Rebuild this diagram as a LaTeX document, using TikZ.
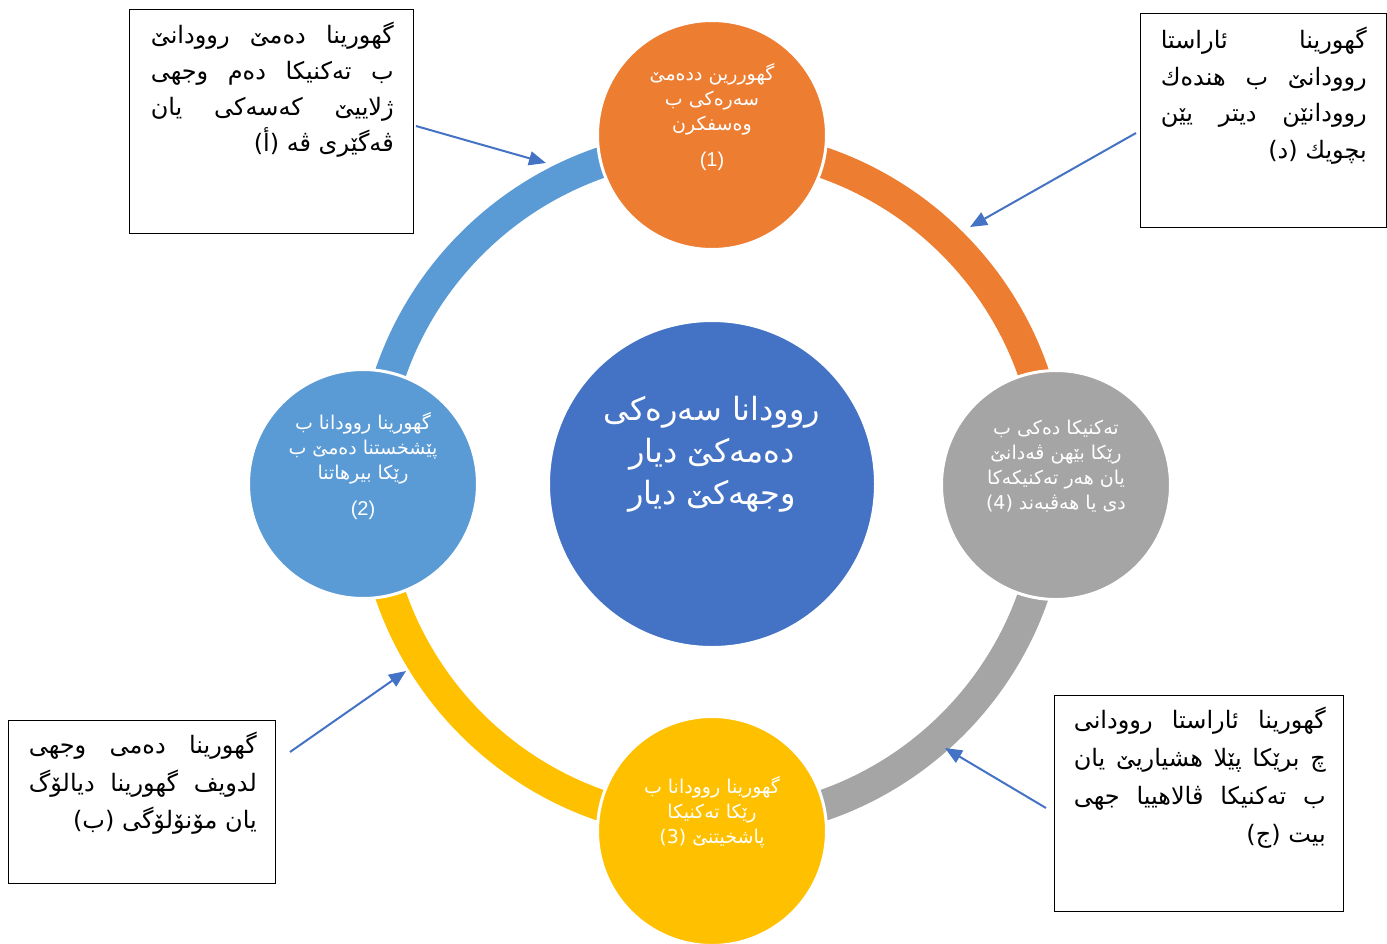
\documentclass[tikz,border=0pt]{standalone}
\usepackage{fontspec}
\usetikzlibrary{arrows.meta}
\TeXXeTstate=1
\newfontfamily\arabicfont[Script=Arabic]{DejaVu Sans}
\newfontfamily\latinfont{Liberation Sans}
\definecolor{corange}{HTML}{ED7D31}
\definecolor{cblue}{HTML}{4472C4}
\definecolor{clight}{HTML}{5B9BD5}
\definecolor{cyellow}{HTML}{FFC000}
\definecolor{cgray}{HTML}{A5A5A5}
\definecolor{arrowblue}{HTML}{4472C4}
\newlength\jw
\newcommand\jl[1]{\hbox to \jw{\spaceskip=.3em plus 1fil\relax\beginR #1\endR}}
\newcommand\jlast[1]{\hbox to \jw{\hfill\beginR #1\endR}}
\newcommand\rl[1]{\beginR #1\endR}
\newcommand\numfont{\latinfont\fontsize{20}{25}\selectfont}
\begin{document}
\begin{tikzpicture}[x=1pt,y=-1pt,
  ring/.style={line width=31pt},
  bubble/.style={circle, draw=white, line width=3pt, minimum size=229pt, inner sep=0pt},
  bubbletext/.style={text=white, align=center, inner sep=0pt, font=\arabicfont\fontsize{19}{25}\selectfont},
  note/.style={draw=black, line width=1pt, inner sep=0pt, anchor=north west},
  notetext/.style={inner sep=0pt, anchor=north east, font=\arabicfont\fontsize{24}{36}\selectfont},
  pointer/.style={draw=arrowblue, line width=2pt, -{Triangle[length=17pt,width=14pt]}}
]
\useasboundingbox (0,0) rectangle (1387,943);
\coordinate (o) at (712,484);
% ring
\draw[ring, draw=corange] (o) ++(90:340pt) arc[start angle=90, end angle=0, radius=340pt];
\draw[ring, draw=cgray] (o) ++(0:340pt) arc[start angle=0, end angle=-90, radius=340pt];
\draw[ring, draw=cyellow] (o) ++(270:340pt) arc[start angle=270, end angle=180, radius=340pt];
\draw[ring, draw=clight] (o) ++(180:340pt) arc[start angle=180, end angle=90, radius=340pt];
% bubbles
\node[bubble, fill=corange] (c1) at (712,135) {};
\node[bubble, fill=clight] (c2) at (363,484) {};
\node[bubble, fill=cyellow] (c3) at (712,831) {};
\node[bubble, fill=cgray] (c4) at (1056,485) {};
\node[circle, fill=cblue, draw=white, line width=3pt, minimum size=327pt, inner sep=0pt] (c0) at (o) {};
% bubble texts
\node[bubbletext] (t1) at ([yshift=18pt]c1.center) {\rl{گهوررین ددەمێ}\\\rl{سەرەکی ب}\\\rl{وەسفکرن}\\[11pt]{\numfont (1)}};
\node[bubbletext] (t2) at ([yshift=18pt]c2.center) {\rl{گهورینا روودانا ب}\\\rl{پێشخستنا دەمێ ب}\\\rl{رێکا بیرهاتنا}\\[11pt]{\numfont (2)}};
\node[bubbletext] (t3) at ([yshift=19pt]c3.center) {\rl{گهورینا روودانا ب}\\\rl{رێکا تەکنیکا}\\\rl{پاشخیتنێ (3)}};
\node[bubbletext] (t4) at ([yshift=19pt]c4.center) {\rl{تەکنیکا دەکی ب}\\\rl{رێکا بێهن ڤەدانێ}\\\rl{یان هەر تەکنیکەکا}\\\rl{دی یا هەڤبەند (4)}};
\node[text=white, align=center, inner sep=0pt, font=\arabicfont\fontsize{32}{42}\selectfont] (t0) at ([yshift=30pt]c0.center) {\rl{روودانا سەرەکی}\\\rl{دەمەکێ دیار}\\\rl{وجهەکێ دیار}};
% note boxes
\node[note, minimum width=284pt, minimum height=224pt] (ba) at (129,9) {};
\node[note, minimum width=246pt, minimum height=214pt] (bd) at (1140,13) {};
\node[note, minimum width=267pt, minimum height=163pt] (bb) at (8,720) {};
\node[note, minimum width=289pt, minimum height=216pt] (bc) at (1054,695) {};
\node[notetext] (ta) at ([shift={(-20pt,-13pt)}]ba.north east) {\vbox{\baselineskip=36pt \jw=243pt
  \jl{گهورینا دەمێ روودانێ}
  \jl{ب تەکنیکا دەم وجهی}
  \jl{ژلاییێ کەسەکی یان}
  \jlast{ڤەگێری ڤە (أ)}}};
\node[notetext] (td) at ([shift={(-20pt,-14pt)}]bd.north east) {\vbox{\baselineskip=36.5pt \jw=206pt
  \jl{گهورینا ئاراستا}
  \jl{روودانێ ب هندەك}
  \jl{روودانێن دیتر یێن}
  \jlast{بچویك (د)}}};
\node[notetext] (tb) at ([shift={(-19pt,-12pt)}]bb.north east) {\vbox{\baselineskip=37.5pt \jw=228pt
  \jl{گهورینا دەمی وجهی}
  \jl{لدویف گهورینا دیالۆگ}
  \jlast{یان مۆنۆلۆگی (ب)}}};
\node[notetext] (tc) at ([shift={(-18pt,-12pt)}]bc.north east) {\vbox{\baselineskip=38pt \jw=252pt
  \jl{گهورینا ئاراستا روودانی}
  \jl{چ برێکا پێلا هشیاریێ یان}
  \jl{ب تەکنیکا ڤالاهییا جهی}
  \jlast{بیت (ج)}}};
% pointers
\coordinate (aS) at (416,126); \coordinate (aE) at (546,163);
\coordinate (dS) at (1136,133); \coordinate (dE) at (970,227);
\coordinate (bS) at (290,752); \coordinate (bE) at (406,671);
\coordinate (cS) at (1046,808); \coordinate (cE) at (945,748);
\draw[pointer] (aS) -- (aE);
\draw[pointer] (dS) -- (dE);
\draw[pointer] (bS) -- (bE);
\draw[pointer] (cS) -- (cE);
\end{tikzpicture}
\end{document}
